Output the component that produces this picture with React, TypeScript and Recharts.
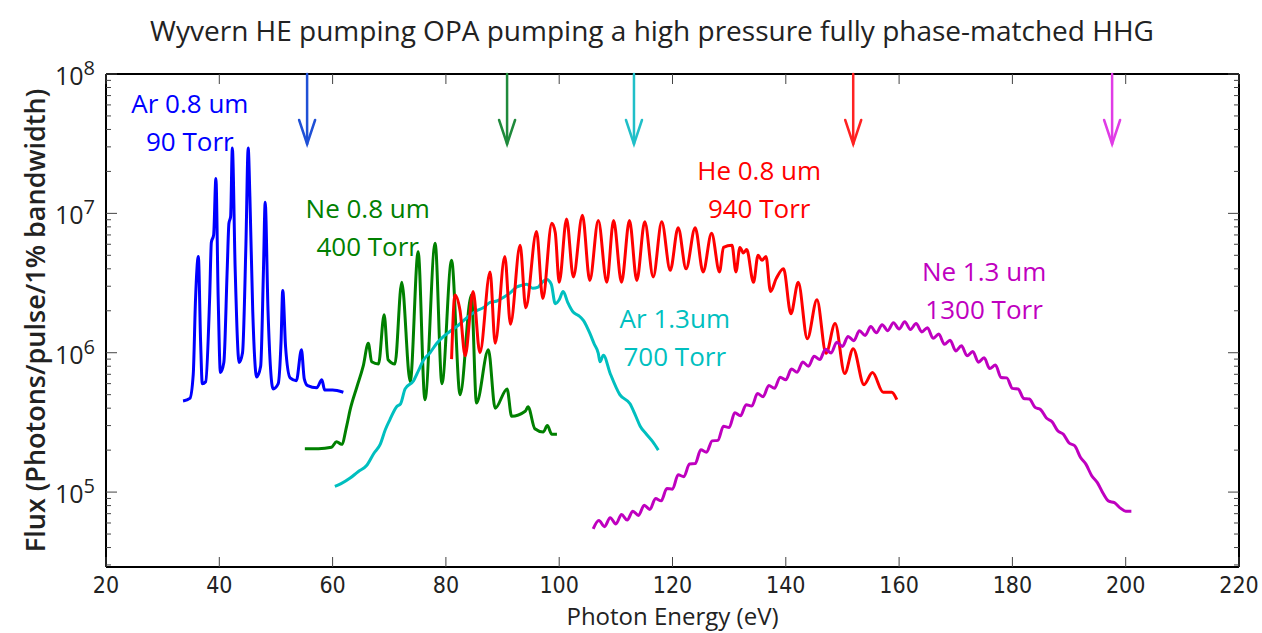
import React from 'react';
import { ComposedChart, Line, XAxis, YAxis, ReferenceLine, ReferenceDot } from 'recharts';

const FONT = '"Open Sans", "Noto Sans", sans-serif';
const TICK_FONT = '"Liberation Sans Narrow", "DejaVu Sans Condensed", "Open Sans", sans-serif';

// [photon energy (eV), flux (photons/pulse/1% bw)]
const ar08 = [
  [33.6, 4.5e5], [34.8, 4.7e5], [35.4, 7e5], [35.8, 2.4e6], [36.3, 4.9e6], [36.7, 1.2e6],
  [37.0, 6e5], [37.6, 6.2e5], [38.3, 2.5e6], [38.6, 6.2e6], [39.0, 7e6], [39.4, 1.78e7],
  [39.8, 2.5e6], [40.2, 7.2e5], [40.8, 8.5e5], [41.4, 4e6], [41.7, 8.5e6], [42.0, 9.5e6],
  [42.3, 2.94e7], [42.8, 4e6], [43.5, 8.5e5], [44.1, 1e6], [44.7, 6e6], [45.1, 2.94e7],
  [45.4, 1.32e7], [45.9, 2e6], [46.6, 6.7e5], [47.3, 8e5], [47.8, 4e6], [48.1, 1.2e7],
  [48.6, 2e6], [49.5, 5.5e5], [50.4, 6e5], [50.9, 1.2e6], [51.2, 2.8e6], [51.7, 1.1e6],
  [52.5, 6.6e5], [53.6, 6.3e5], [54.5, 1.05e6], [55.0, 6.5e5], [55.6, 5.8e5], [57.2, 5.6e5],
  [58.1, 6.4e5], [58.6, 5.4e5], [60.0, 5.4e5], [61.9, 5.2e5],
];

const ne08 = [
  [55.1, 2.05e5], [57.5, 2.05e5], [59.8, 2.1e5], [60.7, 2.3e5], [61.6, 2.2e5], [62.5, 3e5],
  [63.1, 3.9e5], [64.3, 5.7e5], [65.4, 8e5], [66.3, 1.17e6], [66.9, 8.6e5], [68.1, 8.3e5],
  [69.1, 1.87e6], [69.8, 8.9e5], [71.0, 8.3e5], [72.2, 3.2e6], [73.7, 6.2e5], [75.1, 5.3e6],
  [76.3, 4.6e5], [78.1, 6.1e6], [79.3, 6e5], [81.0, 4.6e6], [82.5, 5e5], [84.5, 2.6e6],
  [85.4, 4.35e5], [87.5, 1.05e6], [88.7, 4e5], [90.8, 5.5e5], [91.6, 3.5e5], [94.0, 3.8e5],
  [94.5, 4.1e5], [95.7, 2.85e5], [97.2, 2.7e5], [97.9, 3e5], [98.7, 2.6e5], [99.6, 2.6e5],
];

const ar13 = [
  [60.4, 1.1e5], [61.5, 1.15e5], [63.1, 1.26e5], [64.5, 1.4e5], [66.0, 1.55e5], [67.3, 1.9e5],
  [68.4, 2.2e5], [69.3, 2.8e5], [70.1, 3.3e5], [71.3, 4.1e5], [72.0, 4.3e5], [72.8, 5.5e5],
  [74.3, 6.3e5], [75.2, 7.5e5], [76.0, 8.8e5], [77.2, 1e6], [78.4, 1.17e6], [79.5, 1.3e6],
  [80.7, 1.42e6], [82.0, 1.55e6], [83.1, 1.7e6], [84.2, 1.85e6], [85.4, 2e6], [86.6, 2.1e6],
  [87.8, 2.3e6], [89.0, 2.35e6], [90.2, 2.5e6], [91.4, 2.7e6], [92.5, 2.96e6], [93.4, 3.05e6],
  [94.3, 3.1e6], [95.3, 2.9e6], [96.3, 2.96e6], [97.0, 3.2e6], [97.8, 3.35e6], [98.6, 3.1e6],
  [99.3, 2.25e6], [100.0, 2.4e6], [100.7, 2.75e6], [101.5, 2.3e6], [102.5, 1.95e6],
  [103.4, 1.85e6], [104.3, 1.7e6], [105.4, 1.38e6], [106.2, 1.15e6], [106.9, 9.9e5],
  [107.2, 8.6e5], [107.8, 9.6e5], [109.0, 7.1e5], [110.7, 5e5], [112.5, 4.3e5], [113.4, 3.6e5],
  [114.3, 2.97e5], [115.4, 2.6e5], [116.5, 2.3e5], [117.5, 2e5],
];

const he08 = [
  [81.0, 9e5], [81.6, 2.6e6], [82.5, 2e6], [83.4, 9.5e5], [84.8, 2.75e6], [86.0, 1e6],
  [87.8, 3.8e6], [88.7, 1.17e6], [90.4, 4.9e6], [91.4, 1.6e6], [93.1, 5.9e6], [94.1, 2.1e6],
  [96.0, 7.4e6], [97.1, 2.45e6], [98.7, 8.5e6], [99.3, 7.3e6], [100.0, 3.2e6], [101.3, 9.1e6],
  [102.5, 3.5e6], [104.1, 9.7e6], [105.4, 3.3e6], [106.9, 8.9e6], [108.4, 3.2e6],
  [109.6, 8.9e6], [111.0, 3.2e6], [112.4, 8.9e6], [113.7, 3.3e6], [115.1, 8.7e6],
  [116.6, 3.5e6], [118.1, 8.7e6], [119.6, 3.9e6], [121.0, 7.9e6], [122.4, 4e6], [124.0, 7.9e6],
  [125.4, 3.8e6], [126.9, 7.2e6], [128.3, 3.8e6], [129.0, 5.7e6], [130.5, 5.9e6],
  [131.2, 3.8e6], [131.9, 5.7e6], [132.5, 5.2e6], [133.1, 5.5e6], [134.3, 3.2e6], [135.1, 5e6],
  [135.8, 4.6e6], [136.5, 4.9e6], [137.3, 2.75e6], [138.3, 3.4e6], [139.6, 4e6], [140.9, 1.9e6],
  [142.2, 3.2e6], [143.8, 1.26e6], [145.5, 2.4e6], [147.1, 9.9e5], [148.7, 1.62e6],
  [150.4, 7.1e5], [151.9, 1.07e6], [153.8, 5.9e5], [155.3, 7.2e5], [157.2, 5.2e5],
  [158.7, 5.2e5], [159.6, 4.6e5],
];

const ne13 = [
  [106, 5.45e4], [107, 6.25e4], [108, 5.65e4], [109, 6.55e4], [110, 5.9e4], [111, 6.9e4],
  [112, 6.3e4], [113, 7.3e4], [114, 6.8e4], [115, 8.05e4], [116, 7.5e4], [117, 9e4],
  [118, 8.65e4], [119, 1.06e5], [120, 1.05e5], [121, 1.33e5], [122, 1.29e5], [123, 1.59e5],
  [124, 1.6e5], [125, 2.01e5], [126, 1.93e5], [127, 2.33e5], [128, 2.35e5], [129, 2.97e5],
  [130, 2.91e5], [131, 3.71e5], [132, 3.53e5], [133, 4.24e5], [134, 4.14e5], [135, 5.09e5],
  [136, 4.84e5], [137, 5.83e5], [138, 5.55e5], [139, 6.68e5], [140, 6.39e5], [141, 7.63e5],
  [142, 7.24e5], [143, 8.59e5], [144, 7.99e5], [145, 9.43e5], [146, 8.93e5], [147, 1.06e6],
  [148, 9.96e5], [149, 1.19e6], [150, 1.11e6], [151, 1.31e6], [152, 1.22e6], [153, 1.44e6],
  [154, 1.33e6], [155, 1.54e6], [156, 1.39e6], [157, 1.59e6], [158, 1.44e6], [159, 1.64e6],
  [160, 1.48e6], [161, 1.67e6], [162, 1.47e6], [163, 1.62e6], [164, 1.41e6], [165, 1.51e6],
  [166, 1.27e6], [167, 1.36e6], [168, 1.15e6], [169, 1.23e6], [170, 1.03e6], [171, 1.12e6],
  [172, 9.5e5], [173, 1.02e6], [174, 8.55e5], [175, 9.2e5], [176, 7.7e5], [177, 8.15e5],
  [178, 6.65e5], [179, 6.6e5], [180, 5.55e5], [181, 5.5e5], [182, 4.7e5], [183, 4.65e5],
  [184, 4.05e5], [185, 3.9e5], [186, 3.4e5], [187, 3.2e5], [188, 2.75e5], [189, 2.6e5],
  [190, 2.25e5], [191, 2.15e5], [192, 1.78e5], [193, 1.58e5], [194, 1.31e5], [195, 1.17e5],
  [196, 9.8e4], [197, 8.6e4], [198, 8.4e4], [199, 7.7e4], [200, 7.3e4], [201, 7.3e4],
];

const xTicks = [20, 40, 60, 80, 100, 120, 140, 160, 180, 200, 220];
const yTicks = [
  3e4, 4e4, 5e4, 6e4, 7e4, 8e4, 9e4,
  1e5, 2e5, 3e5, 4e5, 5e5, 6e5, 7e5, 8e5, 9e5,
  1e6, 2e6, 3e6, 4e6, 5e6, 6e6, 7e6, 8e6, 9e6,
  1e7, 2e7, 3e7, 4e7, 5e7, 6e7, 7e7, 8e7, 9e7, 1e8,
];

// cutoff arrows along the top edge
const arrowEnergy = [55.5, 90.8, 113.2, 151.9, 197.6];
const arrowColors = ['#1f50d6', '#1f8a3c', '#20bfc8', '#ff2222', '#e03ce6'];

const series = [
  { name: 'Ar 0.8 um', data: ar08, color: '#0000ff' },
  { name: 'Ne 0.8 um', data: ne08, color: '#008000' },
  { name: 'Ar 1.3um', data: ar13, color: '#00bfbf' },
  { name: 'He 0.8 um', data: he08, color: '#ff0000' },
  { name: 'Ne 1.3 um', data: ne13, color: '#bf00bf' },
];

// in-plot annotations, anchored at the first line's baseline (data coords)
const notes = [
  { lines: ['Ar 0.8 um', '90 Torr'], e: 34.8, f: 5.25e7, color: '#0000ff' },
  { lines: ['Ne 0.8 um', '400 Torr'], e: 66.2, f: 9.25e6, color: '#008000' },
  { lines: ['He 0.8 um', '940 Torr'], e: 135.3, f: 1.73e7, color: '#ff0000' },
  { lines: ['Ar 1.3um', '700 Torr'], e: 120.4, f: 1.5e6, color: '#00bfbf' },
  { lines: ['Ne 1.3 um', '1300 Torr'], e: 175.0, f: 3.27e6, color: '#bf00bf' },
];

// the chart is pinned to the top-left corner of the page, so these are page pixels
const W = 1262;
const H = 633;
const M = { top: 74, right: 23, bottom: 0, left: 28 };
const Y_AXIS_W = 78;
const X_AXIS_H = 66;
const TICK_MARGIN = 8;
const PLOT_W = W - M.left - M.right - Y_AXIS_W;
const PLOT_H = H - M.top - M.bottom - X_AXIS_H;

const toRows = (pts: number[][]) => pts.map(([e, f]) => ({ e, f }));

function XTick(props: any) {
  const { x, y, payload } = props;
  const ay = y - TICK_MARGIN;
  return (
    <g>
      <line x1={x} x2={x} y1={ay} y2={ay - 10} stroke="#444" />
      <line x1={x} x2={x} y1={ay - PLOT_H} y2={ay - PLOT_H + 10} stroke="#444" />
      <text x={x} y={ay + 26} textAnchor="middle" fontSize={23} fontFamily={TICK_FONT} fill="#222">
        {payload.value}
      </text>
    </g>
  );
}

function YTick(props: any) {
  const { x, y, payload } = props;
  const ax = x + TICK_MARGIN;
  const lg = Math.log10(payload.value);
  const exp = Math.round(lg);
  const major = Math.abs(lg - exp) < 1e-6;
  const len = major ? 11 : 5;
  return (
    <g>
      <line x1={ax} x2={ax + len} y1={y} y2={y} stroke="#444" />
      <line x1={ax + PLOT_W - len} x2={ax + PLOT_W} y1={y} y2={y} stroke="#444" />
      {major && (
        <text x={ax - 11} y={y + 11} textAnchor="end" fontFamily={FONT} fill="#222">
          <tspan fontSize={25}>10</tspan>
          <tspan fontSize={20} dy={-10}>{exp}</tspan>
        </text>
      )}
    </g>
  );
}

const arrowShape = (color: string) => (p: any) => (
  <g stroke={color} strokeWidth={2.5} fill="none" strokeLinecap="round">
    <line x1={p.cx} y1={p.cy} x2={p.cx} y2={p.cy + 70} />
    <polyline points={`${p.cx - 8},${p.cy + 46} ${p.cx},${p.cy + 70} ${p.cx + 8},${p.cy + 46}`} />
  </g>
);

const noteShape = (lines: string[], color: string) => (p: any) => (
  <text x={p.cx} y={p.cy} textAnchor="middle" fontSize={26} fill={color} fontFamily={FONT}>
    {lines.map((t, i) => (
      <tspan key={i} x={p.cx} dy={i === 0 ? 0 : 38}>
        {t}
      </tspan>
    ))}
  </text>
);

export default function App() {
  return (
    <div
      style={{
        position: 'absolute',
        left: 0,
        top: 0,
        width: W,
        height: H,
        overflow: 'hidden',
        background: '#fff',
        fontFamily: FONT,
      }}
    >
      <div
        style={{
          position: 'absolute',
          left: 652,
          top: 16,
          transform: 'translateX(-50%)',
          whiteSpace: 'nowrap',
          fontSize: 28,
          lineHeight: '28px',
          color: '#222',
        }}
      >
        Wyvern HE pumping OPA pumping a high pressure fully phase-matched HHG
      </div>
      <ComposedChart width={W} height={H} margin={M}>
        <XAxis
          dataKey="e"
          type="number"
          domain={[20, 220]}
          ticks={xTicks}
          interval={0}
          height={X_AXIS_H}
          tickSize={0}
          tickMargin={TICK_MARGIN}
          tick={<XTick />}
          axisLine={{ stroke: '#000', strokeWidth: 2 }}
          label={{
            value: 'Photon Energy (eV)',
            position: 'insideBottom',
            offset: 8,
            fontSize: 24,
            fill: '#222',
            fontFamily: FONT,
          }}
        />
        <YAxis
          dataKey="f"
          scale="log"
          domain={[2.9e4, 1e8]}
          allowDataOverflow
          ticks={yTicks}
          interval={0}
          width={Y_AXIS_W}
          tickSize={0}
          tickMargin={TICK_MARGIN}
          tick={<YTick />}
          axisLine={{ stroke: '#000', strokeWidth: 2 }}
          label={{
            value: 'Flux (Photons/pulse/1% bandwidth)',
            angle: -90,
            position: 'insideLeft',
            offset: 7,
            style: { textAnchor: 'middle', fontSize: 27, fontWeight: 600, fill: '#222', fontFamily: FONT },
          }}
        />
        <ReferenceLine y={1e8} stroke="#000" strokeWidth={2} ifOverflow="visible" />
        <ReferenceLine x={220} stroke="#000" strokeWidth={2} ifOverflow="visible" />
        {series.map((s) => (
          <Line
            key={s.name}
            data={toRows(s.data)}
            dataKey="f"
            type="monotone"
            stroke={s.color}
            strokeWidth={3}
            dot={false}
            activeDot={false}
            isAnimationActive={false}
          />
        ))}
        {arrowEnergy.map((e, i) => (
          <ReferenceDot key={'a' + i} x={e} y={1e8} ifOverflow="visible" shape={arrowShape(arrowColors[i])} />
        ))}
        {notes.map((n) => (
          <ReferenceDot key={n.lines[0]} x={n.e} y={n.f} ifOverflow="visible" shape={noteShape(n.lines, n.color)} />
        ))}
      </ComposedChart>
    </div>
  );
}
